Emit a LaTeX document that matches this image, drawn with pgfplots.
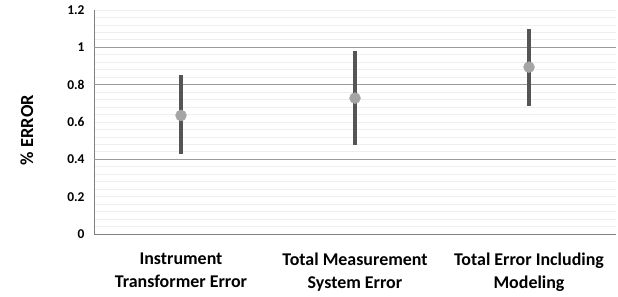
\documentclass[border=0pt]{standalone}
\usepackage{fontspec}
\setmainfont{Carlito}
\usepackage{pgfplots}
\pgfplotsset{compat=1.18}
\definecolor{errc}{HTML}{555555}
\definecolor{markc}{HTML}{A5A5A5}
\definecolor{axc}{HTML}{808080}
\definecolor{majg}{HTML}{9A9A9A}
\definecolor{ming}{HTML}{EEEEEE}
\begin{document}
\begin{tikzpicture}[x=1bp,y=1bp]
\begin{axis}[
  at={(0,0)}, anchor=south west,
  scale only axis, width=522bp, height=224bp,
  xmin=-0.5, xmax=2.5, ymin=0, ymax=1.2,
  axis x line*=bottom, axis y line*=left,
  axis line style={axc, line width=1pt},
  xtick={0,1,2},
  xticklabels={{Instrument\\Transformer Error},{Total Measurement\\System Error},{Total Error Including\\Modeling}},
  xticklabel style={align=center, font=\fontsize{18}{23}\selectfont\bfseries, yshift=-15bp},
  ytick={0,0.2,0.4,0.6,0.8,1,1.2},
  yticklabels={0,0.2,0.4,0.6,0.8,1,1.2},
  yticklabel style={font=\fontsize{13.5}{15}\selectfont\bfseries, xshift=-6bp},
  /pgf/number format/assume math mode=true,
  major tick length=0pt, minor tick length=0pt,
  minor y tick num=4,
  ymajorgrids, yminorgrids,
  major grid style={ming, line width=0.8pt},
  minor grid style={ming, line width=0.8pt},
  extra y ticks={0.4,0.8,1},
  extra y tick labels={},
  extra y tick style={grid=major, major grid style={majg, line width=1pt}},
  ylabel={\% ERROR},
  every axis y label/.style={at={(rel axis cs:-0.1284,0.464)}, rotate=90, anchor=center, font=\fontsize{18.5}{22}\selectfont\bfseries},
  clip=false,
]
\addplot[errc, line width=3.1pt, mark=none] coordinates {(0,0.430) (0,0.850)};
\addplot[errc, line width=3.1pt, mark=none] coordinates {(1,0.478) (1,0.983)};
\addplot[errc, line width=3.1pt, mark=none] coordinates {(2,0.686) (2,1.100)};
\addplot[markc, only marks, mark=*, mark size=5.5bp, mark options={fill=markc, draw=none}]
  coordinates {(0,0.635) (1,0.728) (2,0.894)};
\end{axis}
\pgfresetboundingbox
\path[use as bounding box] (-94,-62) rectangle (524,234);
\end{tikzpicture}
\end{document}
